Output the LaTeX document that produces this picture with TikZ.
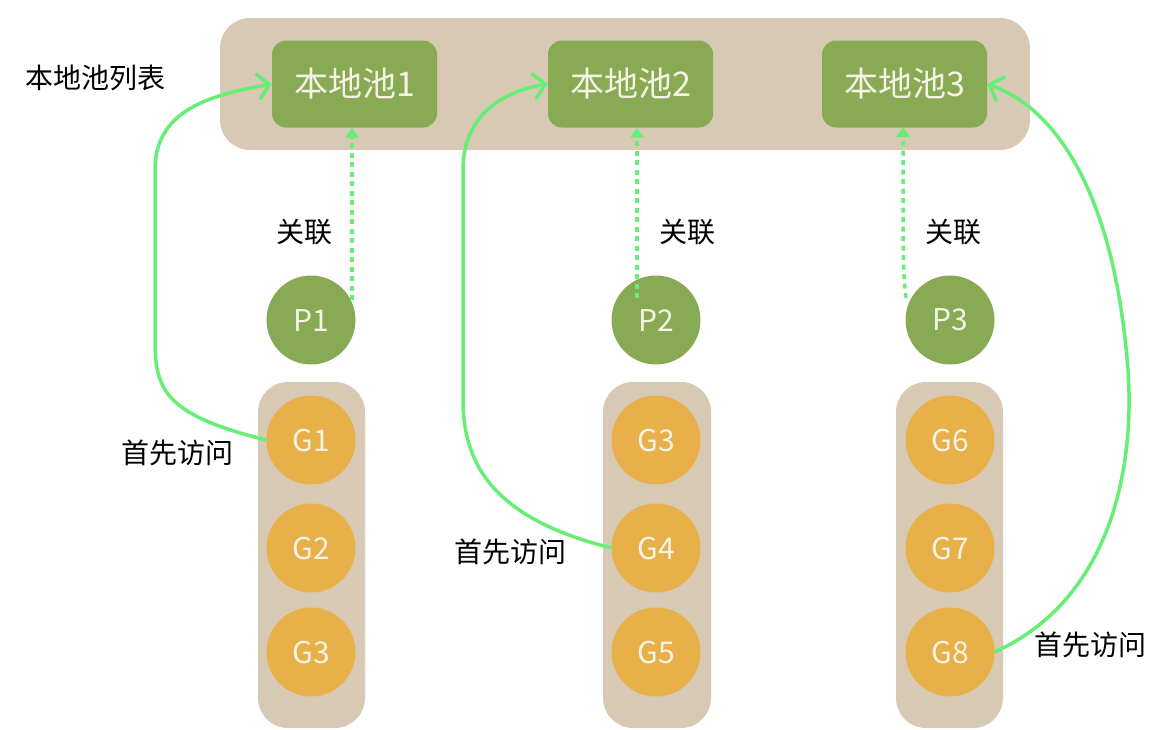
\documentclass[tikz,border=0pt]{standalone}
\usepackage{fontspec}
\setmainfont{Noto Sans CJK SC}
\usetikzlibrary{arrows.meta}
\definecolor{tan}{HTML}{D7C9B3}
\definecolor{olive}{HTML}{89AA54}
\definecolor{orng}{HTML}{E8B048}
\definecolor{lgreen}{HTML}{66EE77}
\definecolor{wtxt}{HTML}{F6F3E4}
\begin{document}
\begin{tikzpicture}[x=1pt,y=-1pt,
  panel/.style={fill=tan,rounded corners=30pt,draw=none},
  pool/.style={fill=olive,rounded corners=14pt,minimum width=165pt,minimum height=87pt,text=wtxt,font=\fontsize{34}{36}\selectfont,inner sep=0pt},
  pcirc/.style={circle,fill=olive,minimum size=89pt,inner sep=0pt,text=wtxt,font=\fontsize{30}{32}\selectfont},
  gcirc/.style={circle,fill=orng,minimum size=89pt,inner sep=0pt,text=wtxt,font=\fontsize{30}{32}\selectfont},
  lbl/.style={font=\fontsize{28}{30}\selectfont,text=black,inner sep=0pt},
  first/.style={draw=lgreen,line width=3.5pt,-{Straight Barb[length=12pt,width=26pt,line width=3.5pt]}},
  assoc/.style={draw=lgreen,line width=3.5pt,dash pattern=on 5pt off 4.5pt,-{Triangle[length=10pt,width=13pt]}}]
\useasboundingbox (0,0) rectangle (1168,729);
% panels
\fill[panel] (220,18) rectangle (1030,150);
\fill[panel] (258,382) rectangle (365,728);
\fill[panel] (603,382) rectangle (711,728);
\fill[panel] (896,382) rectangle (1003,728);
% pools
\node[pool] (l1) at (354.5,84) {本地池1};
\node[pool] (l2) at (630.5,84) {本地池2};
\node[pool] (l3) at (904.5,84) {本地池3};
% P
\node[pcirc] (p1) at (311,320) {P1};
\node[pcirc] (p2) at (656,320) {P2};
\node[pcirc] (p3) at (950,320) {P3};
% G
\node[gcirc] (g1) at (311,440) {G1};
\node[gcirc] (g2) at (311,548) {G2};
\node[gcirc] (g3) at (311,652) {G3};
\node[gcirc] (g3b) at (656,440) {G3};
\node[gcirc] (g4) at (656,548) {G4};
\node[gcirc] (g5) at (656,652) {G5};
\node[gcirc] (g6) at (950,440) {G6};
\node[gcirc] (g7) at (950,548) {G7};
\node[gcirc] (g8) at (950,652) {G8};
% labels
\node[lbl] (tl) at (95,78) {本地池列表};
\node[lbl] (a1) at (304,232) {关联};
\node[lbl] (a2) at (687,232) {关联};
\node[lbl] (a3) at (953,232) {关联};
\node[lbl] (f1) at (177,453) {首先访问};
\node[lbl] (f2) at (510,552) {首先访问};
\node[lbl] (f3) at (1090,645) {首先访问};
% dotted association arrows
\coordinate (s1) at (352,300);
\coordinate (s2) at (637,298);
\coordinate (s3) at (906,298);
\draw[assoc] (s1) -- (s1 |- l1.south);
\draw[assoc] (s2) -- (s2 |- l2.south);
\draw[assoc] (s3) .. controls (903,270) .. (903,127);
% first-visit arrows
\draw[first] (g1.west) .. controls (165,415) and (155,390) .. (155,340) -- (155,170) .. controls (155,110) and (210,95) .. (l1.west);
\draw[first] (g4.west) .. controls (500,520) and (463,470) .. (463,400) -- (463,170) .. controls (463,110) and (510,90) .. (l2.west);
\draw[first] (g8.east) .. controls (1110,600) and (1135,470) .. (1128,370) .. controls (1115,200) and (1060,110) .. (l3.east);
\end{tikzpicture}
\end{document}
